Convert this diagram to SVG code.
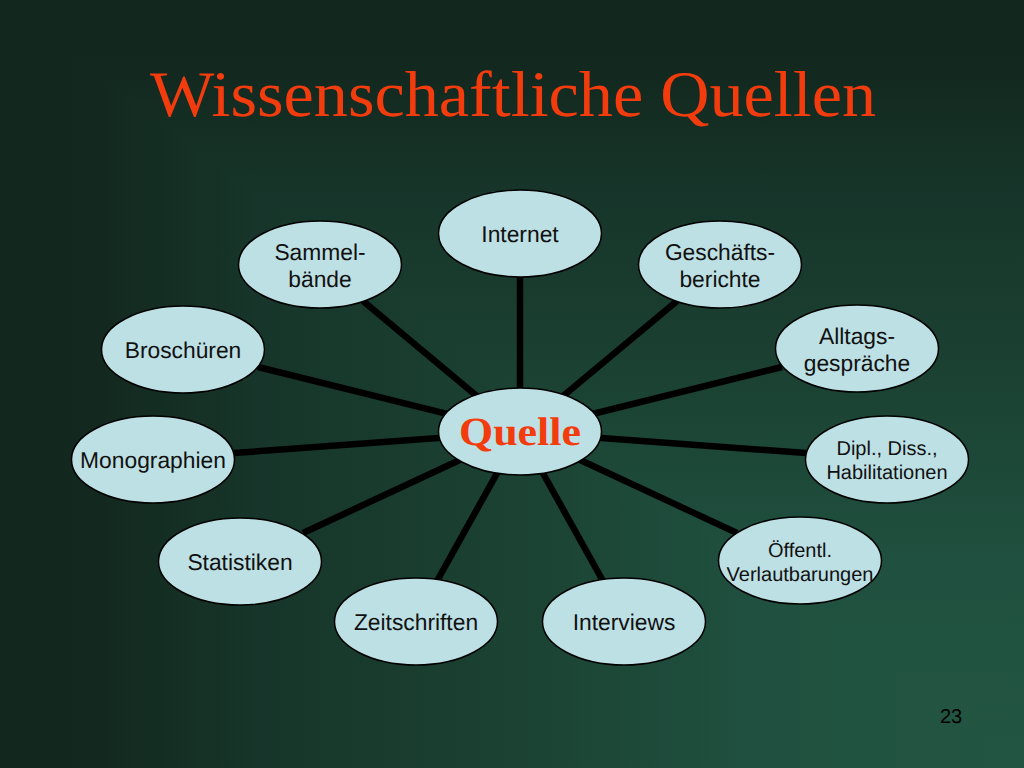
<svg xmlns="http://www.w3.org/2000/svg" width="1024" height="768" viewBox="0 0 1024 768">
<style>
.n{fill:#bde0e4;stroke:#000;stroke-width:1.5}
.l{stroke:#000;stroke-width:6.5;fill:none}
text{font-family:"Liberation Sans",Arial,sans-serif;font-size:22.8px;fill:#111;text-anchor:middle;text-rendering:geometricPrecision}
.s{font-size:20px}
.t{font-family:"Liberation Serif",serif;fill:#f33c0e}
</style>
<defs>
<linearGradient id="bx" gradientUnits="userSpaceOnUse" x1="0" y1="0" x2="1024" y2="0"><stop offset="0" stop-color="#12281f"/><stop offset="0.1" stop-color="#13291f"/><stop offset="0.25" stop-color="#17352a"/><stop offset="0.5" stop-color="#1b4233"/><stop offset="0.75" stop-color="#205140"/><stop offset="1" stop-color="#235642"/></linearGradient>
<linearGradient id="by" gradientUnits="userSpaceOnUse" x1="0" y1="0" x2="0" y2="768"><stop offset="0" stop-color="#12281f"/><stop offset="0.1" stop-color="#13291f"/><stop offset="0.25" stop-color="#17352a"/><stop offset="0.5" stop-color="#1b4233"/><stop offset="0.75" stop-color="#205140"/><stop offset="1" stop-color="#235642"/></linearGradient>
</defs>
<rect width="1024" height="768" fill="url(#bx)"/>
<polygon points="0,0 1024,0 1024,768" fill="url(#by)"/>
<text class="t" x="513" y="116" textLength="726" lengthAdjust="spacingAndGlyphs" style="font-size:65px">Wissenschaftliche Quellen</text>
<g id="connectors">
<line class="l" x1="520" y1="432" x2="520" y2="277"/>
<line class="l" x1="520" y1="432" x2="363" y2="301"/>
<line class="l" x1="520" y1="432" x2="677" y2="301"/>
<line class="l" x1="520" y1="432" x2="258" y2="367"/>
<line class="l" x1="520" y1="432" x2="782" y2="367"/>
<line class="l" x1="520" y1="432" x2="234" y2="453"/>
<line class="l" x1="520" y1="432" x2="806" y2="453"/>
<line class="l" x1="520" y1="432" x2="303" y2="533"/>
<line class="l" x1="520" y1="432" x2="737" y2="533"/>
<line class="l" x1="520" y1="432" x2="437" y2="581"/>
<line class="l" x1="520" y1="432" x2="603" y2="581"/>
</g>
<g id="internet"><ellipse class="n" cx="520" cy="233.500" rx="81.500" ry="43.500"/><text x="520" y="242">Internet</text></g>
<g id="sammel"><ellipse class="n" cx="320" cy="264.500" rx="81.500" ry="43.500"/><text x="320" y="260">Sammel-</text><text x="320" y="287">bände</text></g>
<g id="geschaefts"><ellipse class="n" cx="720" cy="264.500" rx="81.500" ry="43.500"/><text x="720" y="260">Geschäfts-</text><text x="720" y="287">berichte</text></g>
<g id="broschueren"><ellipse class="n" cx="183" cy="349.500" rx="81.500" ry="43.500"/><text x="183" y="358">Broschüren</text></g>
<g id="alltags"><ellipse class="n" cx="857" cy="348.500" rx="81.500" ry="43.500"/><text x="857" y="344">Alltags-</text><text x="857" y="371">gespräche</text></g>
<g id="monographien"><ellipse class="n" cx="153" cy="459.500" rx="81.500" ry="43.500"/><text x="153" y="468">Monographien</text></g>
<g id="dipl"><ellipse class="n" cx="887" cy="459.500" rx="81.500" ry="43.500"/><text class="s" x="887" y="455">Dipl., Diss.,</text><text class="s" x="887" y="479">Habilitationen</text></g>
<g id="statistiken"><ellipse class="n" cx="240" cy="561.500" rx="81.500" ry="43.500"/><text x="240" y="570">Statistiken</text></g>
<g id="oeffentl"><ellipse class="n" cx="800" cy="560.500" rx="81.500" ry="43.500"/><text class="s" x="800" y="557">Öffentl.</text><text class="s" x="800" y="581">Verlautbarungen</text></g>
<g id="zeitschriften"><ellipse class="n" cx="416" cy="621.500" rx="81.500" ry="43.500"/><text x="416" y="630">Zeitschriften</text></g>
<g id="interviews"><ellipse class="n" cx="624" cy="621.500" rx="81.500" ry="43.500"/><text x="624" y="630">Interviews</text></g>
<g id="quelle"><ellipse class="n" cx="520" cy="431.500" rx="81.500" ry="43.500"/><text class="t" x="520" y="445" textLength="122" lengthAdjust="spacingAndGlyphs" style="font-size:40px;font-weight:bold">Quelle</text></g>
<text x="951" y="723" style="font-size:20px;fill:#000">23</text>
</svg>
